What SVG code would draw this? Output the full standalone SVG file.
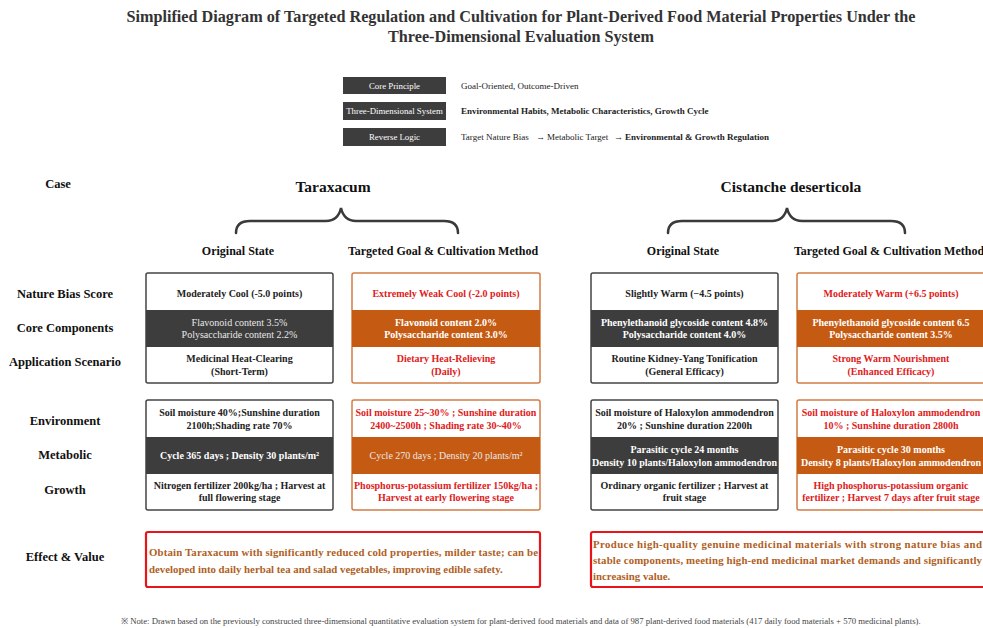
<svg xmlns="http://www.w3.org/2000/svg" width="983" height="628" viewBox="0 0 983 628">
<style>
text{font-family:"Liberation Serif","Times New Roman",serif;}
.title{font-size:16.2px;font-weight:bold;fill:#333;text-anchor:middle;}
.lg{font-size:8.8px;fill:#fff;text-anchor:middle;}
.lt{font-size:9px;fill:#222;}
.case{font-size:15.5px;font-weight:bold;fill:#111;text-anchor:middle;}
.rl{font-size:12.5px;font-weight:bold;fill:#111;text-anchor:middle;}
.ch{font-size:12px;font-weight:bold;fill:#111;text-anchor:middle;}
.bt{font-size:10px;text-anchor:middle;}
.k{fill:#222;font-weight:bold;}
.r{fill:#e0201a;font-weight:bold;}
.w{fill:#fff;font-weight:bold;}
.wl{fill:#e8e8e8;}
.ef{font-size:10.8px;font-weight:bold;fill:#b0601e;}
.og{fill:#fff;stroke:#444;stroke-width:1.5;}
.tg{fill:#fff;stroke:#d27c43;stroke-width:1.5;}
.dk{fill:#3d3d3d;}
.or{fill:#c55b13;}
.eb{fill:#fff;stroke:#e8141a;stroke-width:2.2;}
.br{fill:none;stroke:#3a3a3a;stroke-width:2.5;stroke-linecap:round;}
.note{font-size:8.7px;fill:#444;}
</style>
<rect width="983" height="628" fill="#fff"/>
<g id="title">
<text class="title" x="521" y="22">Simplified Diagram of Targeted Regulation and Cultivation for Plant-Derived Food Material Properties Under the</text>
<text class="title" x="521" y="42">Three-Dimensional Evaluation System</text>
</g>
<g id="legend">
<rect x="343" y="77" width="103" height="17" fill="#3d3d3d"/>
<text class="lg" x="394.5" y="88.5">Core Principle</text>
<text class="lt" x="461" y="88.5">Goal-Oriented, Outcome-Driven</text>
<rect x="343" y="102" width="103" height="18" fill="#3d3d3d"/>
<text class="lg" x="394.5" y="114">Three-Dimensional System</text>
<text class="lt" x="461" y="114" font-weight="bold">Environmental Habits, Metabolic Characteristics, Growth Cycle</text>
<rect x="343" y="128" width="103" height="18" fill="#3d3d3d"/>
<text class="lg" x="394.5" y="140">Reverse Logic</text>
<text class="lt" x="461" y="140">Target Nature Bias</text>
<text class="lt" x="536" y="140" font-size="7">→</text>
<text class="lt" x="547" y="140">Metabolic Target</text>
<text class="lt" x="614" y="140" font-size="7">→</text>
<text class="lt" x="625" y="140" font-weight="bold">Environmental &amp; Growth Regulation</text>
</g>
<g id="row-labels">
<text class="rl" x="58" y="188">Case</text>
<text class="rl" x="65" y="298">Nature Bias Score</text>
<text class="rl" x="65" y="332">Core Components</text>
<text class="rl" x="65" y="366">Application Scenario</text>
<text class="rl" x="65" y="425">Environment</text>
<text class="rl" x="65" y="459">Metabolic</text>
<text class="rl" x="65" y="494">Growth</text>
<text class="rl" x="65" y="561">Effect &amp; Value</text>
</g>
<g id="connectors">
<path class="br" d="M236,233 Q236,221 250,221 L326,221 Q338,221 341,208 Q344,221 356,221 L444,221 Q458,221 458,233"/>
<path class="br" d="M668,233 Q668,221 682,221 L772,221 Q784,221 787,208 Q790,221 802,221 L891,221 Q905,221 905,233"/>
</g>
<g id="case-taraxacum">
<text class="case" x="333" y="192">Taraxacum</text>
<text class="ch" x="238" y="255">Original State</text>
<text class="ch" x="443" y="255">Targeted Goal &amp; Cultivation Method</text>
</g>
<g id="case-cistanche">
<text class="case" x="791" y="192">Cistanche deserticola</text>
<text class="ch" x="683" y="255">Original State</text>
<text class="ch" x="889" y="255">Targeted Goal &amp; Cultivation Method</text>
</g>
<g id="tar-orig-upper">
<rect class="og" x="146" y="273" width="187" height="110" rx="2"/>
<rect class="dk" x="146" y="310" width="187" height="37"/>
<text class="bt k" x="239.5" y="297">Moderately Cool (-5.0 points)</text>
<text class="bt wl" x="239.5" y="326">Flavonoid content 3.5%</text>
<text class="bt wl" x="239.5" y="338">Polysaccharide content 2.2%</text>
<text class="bt k" x="239.5" y="362">Medicinal Heat-Clearing</text>
<text class="bt k" x="239.5" y="375">(Short-Term)</text>
</g>
<g id="tar-target-upper">
<rect class="tg" x="352" y="273" width="188" height="110" rx="2"/>
<rect class="or" x="352" y="310" width="188" height="37"/>
<text class="bt r" x="446" y="297">Extremely Weak Cool (-2.0 points)</text>
<text class="bt w" x="446" y="326">Flavonoid content 2.0%</text>
<text class="bt w" x="446" y="338">Polysaccharide content 3.0%</text>
<text class="bt r" x="446" y="362">Dietary Heat-Relieving</text>
<text class="bt r" x="446" y="375">(Daily)</text>
</g>
<g id="cis-orig-upper">
<rect class="og" x="591" y="273" width="187" height="110" rx="2"/>
<rect class="dk" x="591" y="310" width="187" height="37"/>
<text class="bt k" x="684.5" y="297">Slightly Warm (−4.5 points)</text>
<text class="bt w" x="684.5" y="326">Phenylethanoid glycoside content 4.8%</text>
<text class="bt w" x="684.5" y="338">Polysaccharide content 4.0%</text>
<text class="bt k" x="684.5" y="362">Routine Kidney-Yang Tonification</text>
<text class="bt k" x="684.5" y="375">(General Efficacy)</text>
</g>
<g id="cis-target-upper">
<rect class="tg" x="797" y="273" width="190" height="110" rx="2"/>
<rect class="or" x="797" y="310" width="190" height="37"/>
<text class="bt r" x="891" y="297">Moderately Warm (+6.5 points)</text>
<text class="bt w" x="891" y="326">Phenylethanoid glycoside content 6.5</text>
<text class="bt w" x="891" y="338">Polysaccharide content 3.5%</text>
<text class="bt r" x="891" y="362">Strong Warm Nourishment</text>
<text class="bt r" x="891" y="375">(Enhanced Efficacy)</text>
</g>
<g id="tar-orig-lower">
<rect class="og" x="146" y="400" width="187" height="110" rx="2"/>
<rect class="dk" x="146" y="437" width="187" height="37"/>
<text class="bt k" x="239.5" y="416">Soil moisture 40%;Sunshine duration</text>
<text class="bt k" x="239.5" y="429">2100h;Shading rate 70%</text>
<text class="bt w" x="239.5" y="459">Cycle 365 days ; Density 30 plants/m²</text>
<text class="bt k" x="239.5" y="489">Nitrogen fertilizer 200kg/ha ; Harvest at</text>
<text class="bt k" x="239.5" y="501">full flowering stage</text>
</g>
<g id="tar-target-lower">
<rect class="tg" x="352" y="400" width="188" height="110" rx="2"/>
<rect class="or" x="352" y="437" width="188" height="37"/>
<text class="bt r" x="446" y="416">Soil moisture 25~30% ; Sunshine duration</text>
<text class="bt r" x="446" y="429">2400~2500h ; Shading rate 30~40%</text>
<text class="bt wl" x="446" y="459">Cycle 270 days ; Density 20 plants/m²</text>
<text class="bt r" x="446" y="489">Phosphorus-potassium fertilizer 150kg/ha ;</text>
<text class="bt r" x="446" y="501">Harvest at early flowering stage</text>
</g>
<g id="cis-orig-lower">
<rect class="og" x="591" y="400" width="187" height="110" rx="2"/>
<rect class="dk" x="591" y="437" width="187" height="37"/>
<text class="bt k" x="684.5" y="416">Soil moisture of Haloxylon ammodendron</text>
<text class="bt k" x="684.5" y="429">20% ; Sunshine duration 2200h</text>
<text class="bt w" x="684.5" y="453">Parasitic cycle 24 months</text>
<text class="bt w" x="684.5" y="466">Density 10 plants/Haloxylon ammodendron</text>
<text class="bt k" x="684.5" y="489">Ordinary organic fertilizer ; Harvest at</text>
<text class="bt k" x="684.5" y="501">fruit stage</text>
</g>
<g id="cis-target-lower">
<rect class="tg" x="797" y="400" width="190" height="110" rx="2"/>
<rect class="or" x="797" y="437" width="190" height="37"/>
<text class="bt r" x="891" y="416">Soil moisture of Haloxylon ammodendron</text>
<text class="bt r" x="891" y="429">10% ; Sunshine duration 2800h</text>
<text class="bt w" x="891" y="453">Parasitic cycle 30 months</text>
<text class="bt w" x="891" y="466">Density 8 plants/Haloxylon ammodendron</text>
<text class="bt r" x="891" y="489">High phosphorus-potassium organic</text>
<text class="bt r" x="891" y="501">fertilizer ; Harvest 7 days after fruit stage</text>
</g>
<g id="tar-effect">
<rect class="eb" x="146" y="532" width="394" height="55" rx="2"/>
<text class="ef" x="149" y="556" textLength="389" lengthAdjust="spacing">Obtain Taraxacum with significantly reduced cold properties, milder taste; can be</text>
<text class="ef" x="149" y="573">developed into daily herbal tea and salad vegetables, improving edible safety.</text>
</g>
<g id="cis-effect">
<rect class="eb" x="591" y="532" width="396" height="55" rx="2"/>
<text class="ef" x="593" y="548" textLength="389" lengthAdjust="spacing">Produce high-quality genuine medicinal materials with strong nature bias and</text>
<text class="ef" x="593" y="564" textLength="389" lengthAdjust="spacing">stable components, meeting high-end medicinal market demands and significantly</text>
<text class="ef" x="593" y="580">increasing value.</text>
</g>
<g id="footnote">
<text class="note" x="121" y="624">※ Note: Drawn based on the previously constructed three-dimensional quantitative evaluation system for plant-derived food materials and data of 987 plant-derived food materials (417 daily food materials + 570 medicinal plants).</text>
</g>
</svg>
